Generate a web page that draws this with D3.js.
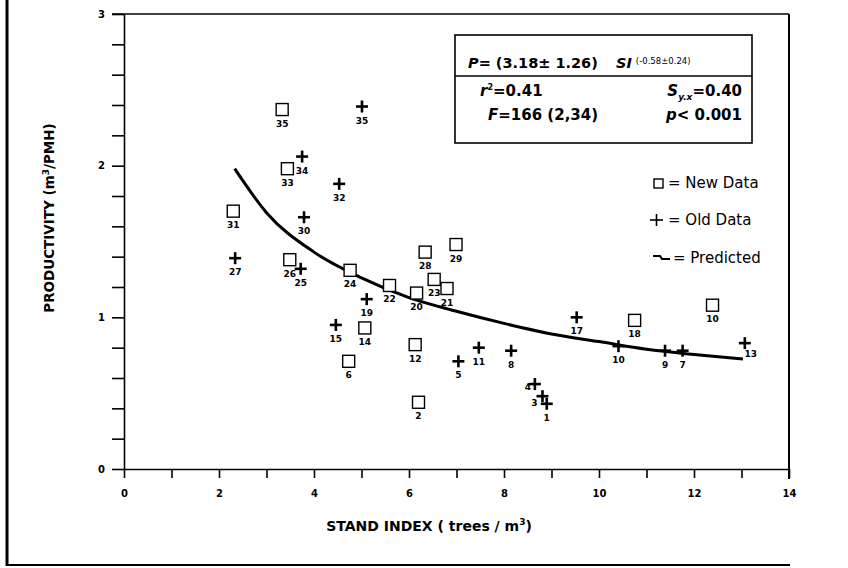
<html lang="en">
<head>
<meta charset="UTF-8" />
<title>Productivity vs Stand Index</title>
<script src="https://cdn.jsdelivr.net/npm/d3@7"></script>
<style>
  body { margin: 0; background: #fff; }
  text { font-family: "DejaVu Sans", "Liberation Sans", Arial, sans-serif; fill: #000; }
</style>
</head>
<body>
<script>
// ---- data ----
const newIds  = [35, 33, 31, 26, 24, 22, 20, 28, 29, 23, 21, 14, 12, 6, 2, 18, 10];
const newSI   = [3.33, 3.44, 2.30, 3.49, 4.76, 5.59, 6.16, 6.34, 6.99, 6.53, 6.80, 5.07, 6.13, 4.73, 6.20, 10.75, 12.39];
const newProd = [2.37, 1.98, 1.70, 1.38, 1.31, 1.21, 1.16, 1.43, 1.48, 1.25, 1.19, 0.93, 0.82, 0.71, 0.44, 0.98, 1.08];

const oldIds  = [35, 34, 32, 30, 27, 25, 19, 15, 11, 8, 5, 4, 3, 1, 17, 10, 9, 7, 13];
const oldSI   = [5.01, 3.75, 4.53, 3.79, 2.34, 3.72, 5.11, 4.46, 7.47, 8.15, 7.04, 8.65, 8.81, 8.90, 9.53, 10.41, 11.39, 11.76, 13.07];
const oldProd = [2.39, 2.06, 1.88, 1.66, 1.39, 1.32, 1.12, 0.95, 0.80, 0.78, 0.71, 0.56, 0.48, 0.43, 1.00, 0.81, 0.78, 0.78, 0.83];

const predSI   = [2.33, 3, 4, 5, 6, 7, 8, 9, 10, 11, 12, 13.03];
const predProd = [1.98, 1.69, 1.43, 1.26, 1.13, 1.04, 0.96, 0.89, 0.84, 0.79, 0.755, 0.725];

const xTicks = d3.range(0, 15, 1);
const yTicks = d3.range(0, 3.01, 0.2);

// ---- drawing ----
const width = 848, height = 568;
const svg = d3.select("body").append("svg")
  .attr("width", width).attr("height", height);

const x = d3.scaleLinear().domain([0, 14]).range([124, 789]);
const y = d3.scaleLinear().domain([0, 3]).range([469, 14]);

// outer frame (left + bottom only, as scanned)
svg.append("line").attr("x1", 7).attr("x2", 7).attr("y1", 0).attr("y2", 566)
  .attr("stroke", "#000").attr("stroke-width", 3);
svg.append("line").attr("x1", 6).attr("x2", 790).attr("y1", 565).attr("y2", 565)
  .attr("stroke", "#000").attr("stroke-width", 2);

// plot box top + right
svg.append("line").attr("x1", 112).attr("x2", x(14)).attr("y1", y(3)).attr("y2", y(3))
  .attr("stroke", "#000").attr("stroke-width", 1.6);
svg.append("line").attr("x1", x(14)).attr("x2", x(14)).attr("y1", y(3)).attr("y2", y(0) + 10)
  .attr("stroke", "#000").attr("stroke-width", 2);

// axes
const xAxis = d3.axisBottom(x).tickValues(xTicks).tickSize(9).tickSizeOuter(0).tickPadding(12)
  .tickFormat(d => d % 2 === 0 ? d : "");
const gx = svg.append("g").attr("transform", `translate(0,${y(0)})`).call(xAxis);

const yAxis = d3.axisLeft(y).tickValues(yTicks).tickSize(12).tickSizeOuter(0).tickPadding(7)
  .tickFormat(d => Math.abs(d - Math.round(d)) < 1e-6 ? Math.round(d) : "");
const gy = svg.append("g").attr("transform", `translate(${x(0)},0)`).call(yAxis);

[gx, gy].forEach(g => {
  g.select(".domain").attr("stroke", "#000").attr("stroke-width", 1.6);
  g.selectAll(".tick line").attr("stroke", "#000").attr("stroke-width", 1.6);
  g.selectAll(".tick text").attr("font-size", 10).attr("font-weight", "bold")
    .attr("font-family", "DejaVu Sans, sans-serif");
});

// axis titles
const yt = svg.append("text").attr("transform", "translate(54,218) rotate(-90)")
  .attr("text-anchor", "middle").attr("font-size", 13.5).attr("font-weight", "bold");
yt.append("tspan").text("PRODUCTIVITY (m");
yt.append("tspan").attr("font-size", 9).attr("dy", -5).text("3");
yt.append("tspan").attr("dy", 5).text("/PMH)");

const xt = svg.append("text").attr("x", 429).attr("y", 531)
  .attr("text-anchor", "middle").attr("font-size", 14).attr("font-weight", "bold");
xt.append("tspan").text("STAND INDEX ( trees / m");
xt.append("tspan").attr("font-size", 9).attr("dy", -6).text("3");
xt.append("tspan").attr("dy", 6).text(")");

// predicted curve
const line = d3.line().x((d, i) => x(predSI[i])).y(d => y(d)).curve(d3.curveMonotoneX);
svg.append("path").datum(predProd).attr("d", line)
  .attr("fill", "none").attr("stroke", "#000").attr("stroke-width", 3);

// new data: squares
const sq = 12;
svg.append("g").selectAll("rect").data(newIds).join("rect")
  .attr("x", (d, i) => x(newSI[i]) - sq / 2)
  .attr("y", (d, i) => y(newProd[i]) - sq / 2)
  .attr("width", sq).attr("height", sq)
  .attr("fill", "#fff").attr("stroke", "#000").attr("stroke-width", 1.4);

// old data: plus marks
const pl = 6;
const gOld = svg.append("g").selectAll("g").data(oldIds).join("g")
  .attr("transform", (d, i) => `translate(${x(oldSI[i])},${y(oldProd[i])})`);
gOld.append("line").attr("x1", -pl).attr("x2", pl).attr("stroke", "#000").attr("stroke-width", 2.6);
gOld.append("line").attr("y1", -pl).attr("y2", pl).attr("stroke", "#000").attr("stroke-width", 2.6);

// point labels (below the mark, a few nudged aside)
const oldNudge = { 4: [-7, 6], 3: [-8, 10], 13: [6, 14] };
svg.append("g").selectAll("text").data(newIds).join("text")
  .attr("x", (d, i) => x(newSI[i]))
  .attr("y", (d, i) => y(newProd[i]) + 17)
  .attr("text-anchor", "middle").attr("font-size", 9).attr("font-weight", "bold")
  .text(d => d);
svg.append("g").selectAll("text").data(oldIds).join("text")
  .attr("x", (d, i) => x(oldSI[i]) + (oldNudge[d] ? oldNudge[d][0] : 0))
  .attr("y", (d, i) => y(oldProd[i]) + (oldNudge[d] ? oldNudge[d][1] : 17))
  .attr("text-anchor", "middle")
  .attr("font-size", 9).attr("font-weight", "bold")
  .text(d => d);

// statistics box
svg.append("rect").attr("x", 455).attr("y", 35).attr("width", 297).attr("height", 108)
  .attr("fill", "#fff").attr("stroke", "#000").attr("stroke-width", 1.6);
svg.append("line").attr("x1", 455).attr("x2", 752).attr("y1", 76).attr("y2", 76)
  .attr("stroke", "#000").attr("stroke-width", 1.6);

const eq = svg.append("text").attr("x", 468).attr("y", 68).attr("font-size", 14.5).attr("font-weight", "bold");
eq.append("tspan").attr("font-style", "italic").text("P");
eq.append("tspan").text("= (3.18\u00b1 1.26)");
eq.append("tspan").attr("x", 616).attr("font-style", "italic").text("SI");
eq.append("tspan").attr("font-size", 8.5).attr("font-weight", "normal").attr("dx", 4).attr("dy", -4)
  .text("(-0.58\u00b10.24)");

const r2 = svg.append("text").attr("x", 480).attr("y", 96).attr("font-size", 15).attr("font-weight", "bold");
r2.append("tspan").attr("font-style", "italic").text("r");
r2.append("tspan").attr("font-size", 8).attr("dy", -6).text("2");
r2.append("tspan").attr("dy", 6).text("=0.41");

const syx = svg.append("text").attr("x", 742).attr("y", 96).attr("text-anchor", "end")
  .attr("font-size", 15).attr("font-weight", "bold");
syx.append("tspan").attr("font-style", "italic").text("S");
syx.append("tspan").attr("font-style", "italic").attr("font-size", 9).attr("dy", 4).text("y.x");
syx.append("tspan").attr("dy", -4).text("=0.40");

const ft = svg.append("text").attr("x", 488).attr("y", 120).attr("font-size", 15).attr("font-weight", "bold");
ft.append("tspan").attr("font-style", "italic").text("F");
ft.append("tspan").text("=166 (2,34)");

const pt = svg.append("text").attr("x", 742).attr("y", 120).attr("text-anchor", "end")
  .attr("font-size", 15).attr("font-weight", "bold");
pt.append("tspan").attr("font-style", "italic").text("p");
pt.append("tspan").text("< 0.001");

// legend
const lg = svg.append("g");
lg.append("rect").attr("x", 654).attr("y", 179).attr("width", 9).attr("height", 9)
  .attr("fill", "#fff").attr("stroke", "#000").attr("stroke-width", 1.4);
lg.append("text").attr("x", 668).attr("y", 188).attr("font-size", 15).text("= New Data");
lg.append("line").attr("x1", 650).attr("x2", 663).attr("y1", 220).attr("y2", 220)
  .attr("stroke", "#000").attr("stroke-width", 1.6);
lg.append("line").attr("x1", 656.5).attr("x2", 656.5).attr("y1", 214).attr("y2", 226)
  .attr("stroke", "#000").attr("stroke-width", 1.6);
lg.append("text").attr("x", 668).attr("y", 225).attr("font-size", 15).text("= Old Data");
lg.append("path").attr("d", d3.line()([[653, 256], [660, 256], [662, 259], [670, 259]]))
  .attr("fill", "none").attr("stroke", "#000").attr("stroke-width", 2);
lg.append("text").attr("x", 673).attr("y", 263).attr("font-size", 15).text("= Predicted");
</script>
</body>
</html>
